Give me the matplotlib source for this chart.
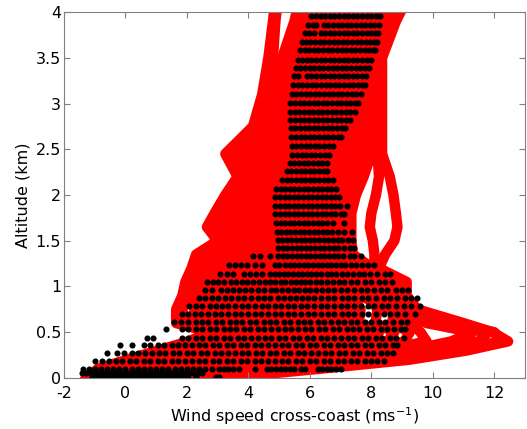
import matplotlib.pyplot as plt
from matplotlib.ticker import FormatStrFormatter

# altitude nodes (km) shared by all model profiles
profile_alt = [0.0, 0.1, 0.2, 0.3, 0.4, 0.5, 0.6, 0.75, 0.9, 1.05, 1.2, 1.35,
               1.5, 1.65, 1.8, 2.0, 2.2, 2.45, 2.75, 3.1, 3.5, 3.9, 4.2]

# cross-coast wind speed (m/s) of each model profile at the nodes above
profile_speed = [
    [-1.25, -0.90, 0.05, 1.05, 2.05, 2.75, 1.65, 1.65, 1.85, 1.95, 2.15, 2.30, 3.00, 2.65, 2.90, 3.25, 3.65, 3.25, 4.15, 4.45, 4.65, 4.80, 4.90],
    [-1.10, -0.68, 0.31, 1.32, 2.32, 3.00, 1.92, 1.85, 2.10, 2.20, 2.35, 2.45, 3.15, 2.85, 3.05, 3.40, 3.80, 3.45, 4.30, 4.58, 4.80, 4.88, 4.98],
    [-0.94, -0.46, 0.57, 1.59, 2.59, 3.25, 2.19, 2.25, 2.35, 2.45, 2.55, 2.65, 3.30, 3.05, 3.25, 3.60, 3.95, 3.60, 4.44, 4.72, 5.10, 5.50, 5.70],
    [-0.79, -0.24, 0.83, 1.86, 2.86, 3.50, 2.46, 2.55, 2.61, 2.69, 2.77, 2.84, 3.46, 3.22, 3.41, 3.76, 4.10, 3.78, 4.59, 4.85, 5.22, 5.62, 5.82],
    [-0.64, -0.02, 1.09, 2.13, 3.13, 3.75, 2.73, 2.80, 2.86, 2.94, 2.99, 3.03, 3.62, 3.39, 3.58, 3.91, 4.25, 3.95, 4.73, 4.99, 5.34, 5.74, 5.95],
    [-0.49, 0.20, 1.35, 2.40, 3.40, 4.00, 3.00, 3.05, 3.11, 3.19, 3.21, 3.22, 3.79, 3.57, 3.74, 4.07, 4.41, 4.13, 4.88, 5.12, 5.46, 5.86, 6.08],
    [-0.33, 0.42, 1.61, 2.67, 3.67, 4.25, 3.27, 3.35, 3.36, 3.44, 3.43, 3.41, 3.95, 3.74, 3.91, 4.22, 4.56, 4.30, 5.02, 5.26, 5.58, 5.98, 6.21],
    [-0.18, 0.64, 1.87, 2.94, 3.94, 4.50, 3.54, 3.60, 3.61, 3.69, 3.65, 3.60, 4.11, 3.91, 4.07, 4.38, 4.71, 4.48, 5.17, 5.39, 5.70, 6.10, 6.34],
    [-0.03, 0.86, 2.13, 3.21, 4.21, 4.75, 3.81, 3.90, 3.86, 3.94, 3.87, 3.79, 4.27, 4.08, 4.23, 4.54, 4.86, 4.66, 5.31, 5.53, 5.82, 6.22, 6.47],
    [0.13, 1.08, 2.39, 3.48, 4.48, 5.00, 4.08, 4.15, 4.12, 4.18, 4.09, 3.98, 4.43, 4.25, 4.40, 4.69, 5.01, 4.83, 5.46, 5.66, 5.94, 6.34, 6.60],
    [0.28, 1.30, 2.65, 3.75, 4.75, 5.25, 4.35, 4.40, 4.37, 4.43, 4.31, 4.17, 4.60, 4.43, 4.56, 4.85, 5.17, 5.01, 5.60, 5.80, 6.06, 6.46, 6.73],
    [0.43, 1.52, 2.91, 4.02, 5.02, 5.50, 4.62, 4.70, 4.62, 4.68, 4.53, 4.36, 4.76, 4.60, 4.73, 5.00, 5.32, 5.18, 5.75, 5.93, 6.18, 6.58, 6.86],
    [0.59, 1.74, 3.17, 4.29, 5.29, 5.75, 4.89, 4.95, 4.87, 4.93, 4.75, 4.55, 4.92, 4.77, 4.89, 5.16, 5.47, 5.36, 5.89, 6.06, 6.30, 6.70, 6.99],
    [0.74, 1.96, 3.43, 4.56, 5.56, 6.00, 5.16, 5.25, 5.12, 5.18, 4.97, 4.74, 5.08, 4.94, 5.05, 5.32, 5.62, 5.54, 6.04, 6.20, 6.42, 6.82, 7.12],
    [0.89, 2.18, 3.69, 4.83, 5.83, 6.25, 5.43, 5.50, 5.37, 5.43, 5.19, 4.93, 5.24, 5.11, 5.22, 5.47, 5.77, 5.71, 6.18, 6.33, 6.54, 6.94, 7.25],
    [1.05, 2.40, 3.95, 5.10, 6.10, 6.50, 5.70, 5.75, 5.63, 5.67, 5.41, 5.12, 5.41, 5.29, 5.38, 5.63, 5.93, 5.89, 6.33, 6.47, 6.67, 7.06, 7.38],
    [1.20, 2.62, 4.21, 5.37, 6.37, 6.75, 5.97, 6.05, 5.88, 5.92, 5.63, 5.31, 5.57, 5.46, 5.55, 5.78, 6.08, 6.06, 6.47, 6.60, 6.79, 7.18, 7.51],
    [1.35, 2.84, 4.47, 5.64, 6.64, 7.00, 6.24, 6.30, 6.13, 6.17, 5.85, 5.50, 5.73, 5.63, 5.71, 5.94, 6.23, 6.24, 6.62, 6.74, 6.91, 7.30, 7.64],
    [1.50, 3.06, 4.73, 5.91, 6.91, 7.25, 6.51, 6.55, 6.38, 6.42, 6.07, 5.69, 5.89, 5.80, 5.87, 6.10, 6.38, 6.42, 6.76, 6.87, 7.03, 7.42, 7.77],
    [1.66, 3.28, 4.99, 6.18, 7.18, 7.50, 6.78, 6.85, 6.63, 6.67, 6.29, 5.88, 6.05, 5.97, 6.04, 6.25, 6.53, 6.59, 6.91, 7.01, 7.15, 7.55, 7.91],
    [1.81, 3.50, 5.25, 6.45, 7.45, 7.75, 7.05, 7.10, 6.88, 6.92, 6.51, 6.07, 6.22, 6.15, 6.20, 6.41, 6.69, 6.77, 7.05, 7.14, 7.27, 7.67, 8.04],
    [1.96, 3.72, 5.51, 6.72, 7.72, 8.00, 7.32, 7.40, 7.14, 7.16, 6.73, 6.26, 6.38, 6.32, 6.37, 6.56, 6.84, 6.94, 7.20, 7.27, 7.39, 7.80, 8.17],
    [2.12, 3.94, 5.77, 6.99, 7.99, 8.25, 7.59, 7.65, 7.39, 7.41, 6.95, 6.45, 6.54, 6.49, 6.53, 6.72, 6.99, 7.12, 7.34, 7.41, 7.51, 7.92, 8.31],
    [2.27, 3.60, 6.20, 8.40, 9.80, 9.60, 9.30, 8.60, 7.64, 7.66, 7.17, 6.64, 6.70, 6.66, 6.70, 6.88, 7.14, 7.30, 7.49, 7.54, 7.63, 8.05, 8.44],
    [2.42, 4.38, 6.29, 7.53, 8.53, 8.75, 8.13, 8.20, 7.89, 7.91, 7.39, 6.83, 6.86, 6.83, 6.86, 7.03, 7.30, 7.47, 7.63, 7.68, 7.75, 8.17, 8.58],
    [2.58, 4.20, 7.00, 9.20, 10.60, 11.30, 9.80, 8.90, 8.14, 8.16, 7.61, 7.02, 7.03, 7.01, 7.02, 7.19, 7.45, 7.65, 7.78, 7.81, 7.87, 8.30, 8.71],
    [2.73, 4.82, 6.81, 8.07, 9.07, 9.25, 8.67, 8.75, 8.39, 8.41, 7.83, 7.21, 7.19, 7.18, 7.19, 7.34, 7.60, 7.82, 7.92, 7.95, 7.99, 8.42, 8.85],
    [2.88, 4.80, 7.80, 10.00, 11.50, 11.80, 10.20, 9.20, 8.65, 8.65, 8.05, 7.40, 7.35, 7.35, 7.35, 7.50, 7.75, 8.00, 8.07, 8.08, 8.11, 8.55, 8.98],
    [3.03, 5.40, 8.40, 10.60, 12.25, 12.00, 10.60, 9.30, 8.90, 8.90, 8.10, 8.10, 8.05, 7.95, 8.00, 8.15, 8.25, 8.20, 8.21, 8.22, 8.23, 8.67, 9.12],
    [3.19, 6.30, 9.25, 11.10, 12.45, 11.95, 11.00, 9.50, 9.15, 9.15, 8.25, 8.45, 8.75, 8.85, 8.80, 8.72, 8.60, 8.35, 8.35, 8.35, 8.35, 8.80, 9.25],
]

# observation levels (km)
obs_alt = [3.96, 3.86, 3.77, 3.67, 3.58, 3.48, 3.39, 3.30, 3.20, 3.10,
           3.01, 2.91, 2.82, 2.73, 2.63, 2.54, 2.44, 2.35, 2.26, 2.16,
           2.07, 1.98, 1.88, 1.79, 1.69, 1.60, 1.51, 1.42, 1.33, 1.23,
           1.14, 1.05, 0.96, 0.87, 0.79, 0.70, 0.61, 0.53, 0.44, 0.36,
           0.27, 0.19, 0.095, 0.05, 0.015]

# observed cross-coast wind speeds (m/s) at each level
obs_speed = [
    [6.05, 6.2, 6.35, 6.5, 6.65, 6.8, 6.95, 7.1, 7.25, 7.4, 7.55, 7.7, 7.85, 8.0, 8.15, 8.27],
    [5.95, 6.1, 6.2, 6.45, 6.6, 6.75, 6.9, 7.05, 7.2, 7.35, 7.5, 7.65, 7.8, 7.95, 8.1, 8.25],
    [5.84, 5.98, 6.12, 6.35, 6.5, 6.65, 6.8, 6.95, 7.1, 7.25, 7.4, 7.55, 7.7, 7.85, 8.0, 8.12, 8.22],
    [5.74, 5.88, 6.02, 6.18, 6.32, 6.47, 6.62, 6.77, 6.92, 7.07, 7.22, 7.37, 7.52, 7.67, 7.82, 7.97, 8.1, 8.17],
    [5.68, 5.83, 5.98, 6.13, 6.28, 6.43, 6.58, 6.73, 6.88, 7.03, 7.18, 7.33, 7.48, 7.63, 7.78, 7.93, 8.05, 8.12],
    [5.6, 5.75, 5.9, 6.05, 6.2, 6.35, 6.5, 6.65, 6.8, 6.95, 7.1, 7.25, 7.4, 7.55, 7.7, 7.85, 8.0],
    [5.54, 5.69, 5.84, 5.99, 6.14, 6.29, 6.44, 6.59, 6.74, 6.89, 7.04, 7.19, 7.34, 7.49, 7.64, 7.79, 7.94],
    [5.49, 5.62, 5.9, 6.05, 6.2, 6.35, 6.5, 6.65, 6.8, 6.95, 7.1, 7.25, 7.4, 7.55, 7.7, 7.84],
    [5.46, 5.61, 5.76, 5.91, 6.06, 6.21, 6.36, 6.51, 6.66, 6.81, 6.96, 7.11, 7.26, 7.41, 7.56, 7.7, 7.79],
    [5.41, 5.56, 5.71, 5.86, 6.01, 6.16, 6.31, 6.46, 6.61, 6.76, 6.91, 7.06, 7.21, 7.36, 7.51, 7.66],
    [5.37, 5.52, 5.67, 5.82, 5.97, 6.12, 6.27, 6.42, 6.57, 6.72, 6.87, 7.02, 7.17, 7.32, 7.47, 7.58],
    [5.36, 5.51, 5.66, 5.81, 5.96, 6.11, 6.26, 6.41, 6.56, 6.71, 6.86, 7.01, 7.16, 7.3, 7.46],
    [5.37, 5.52, 5.67, 5.82, 5.97, 6.12, 6.27, 6.42, 6.57, 6.72, 6.87, 7.02, 7.17, 7.3],
    [5.38, 5.53, 5.68, 5.83, 5.98, 6.13, 6.28, 6.43, 6.58, 6.73, 6.88, 7.03, 7.15],
    [5.4, 5.55, 5.7, 5.85, 6.0, 6.15, 6.3, 6.45, 6.6, 6.75, 6.9, 7.0],
    [5.41, 5.56, 5.71, 5.86, 6.01, 6.16, 6.31, 6.46, 6.61, 6.76],
    [5.43, 5.58, 5.73, 5.88, 6.03, 6.18, 6.33, 6.48, 6.63],
    [5.35, 5.5, 5.65, 5.8, 5.95, 6.1, 6.25, 6.4, 6.55],
    [5.25, 5.4, 5.55, 5.7, 5.85, 6.0, 6.15, 6.3, 6.45, 6.55],
    [5.1, 5.25, 5.4, 5.55, 5.7, 5.85, 6.0, 6.15, 6.3, 6.45, 6.6, 6.75],
    [4.9, 5.05, 5.2, 5.35, 5.5, 5.65, 5.8, 5.95, 6.1, 6.25, 6.4, 6.55, 6.7, 6.85],
    [4.88, 5.03, 5.18, 5.33, 5.48, 5.63, 5.78, 5.93, 6.08, 6.23, 6.38, 6.53, 6.68, 6.83, 6.95],
    [4.88, 5.03, 5.18, 5.33, 5.48, 5.63, 5.78, 5.93, 6.08, 6.23, 6.38, 6.53, 6.68, 6.83, 6.98, 7.2],
    [4.88, 5.03, 5.18, 5.33, 5.48, 5.63, 5.78, 5.93, 6.08, 6.23, 6.38, 6.53, 6.68, 6.83, 7.0, 7.1],
    [4.9, 5.05, 5.2, 5.35, 5.5, 5.65, 5.8, 5.95, 6.1, 6.25, 6.4, 6.55, 6.75, 7.1],
    [4.92, 5.07, 5.22, 5.37, 5.52, 5.67, 5.82, 5.97, 6.12, 6.27, 6.42, 6.57, 6.72, 6.9, 7.1, 7.36],
    [4.95, 5.1, 5.25, 5.4, 5.55, 5.7, 5.85, 6.0, 6.15, 6.3, 6.45, 6.6, 6.75, 6.92, 7.05, 7.25, 7.4],
    [4.97, 5.12, 5.27, 5.42, 5.57, 5.72, 5.87, 6.02, 6.17, 6.32, 6.47, 6.62, 6.77, 6.92, 7.1, 7.3, 7.45],
    [4.14, 4.38, 4.69, 4.97, 5.12, 5.27, 5.42, 5.57, 5.72, 5.87, 6.02, 6.17, 6.32, 6.47, 6.62, 6.77, 6.92, 7.07, 7.3, 7.45, 7.67],
    [3.38, 3.55, 3.75, 3.95, 4.2, 4.45, 4.85, 5.0, 5.2, 5.35, 5.5, 5.65, 5.8, 5.95, 6.1, 6.25, 6.4, 6.55, 6.7, 6.85, 7.0, 7.15, 7.35, 7.5, 7.7, 7.9, 8.1],
    [3.08, 3.3, 3.5, 3.85, 4.05, 4.25, 4.45, 4.7, 4.85, 5.0, 5.15, 5.3, 5.45, 5.6, 5.75, 5.9, 6.05, 6.2, 6.35, 6.55, 6.7, 6.85, 7.05, 7.2, 7.4, 7.6, 7.75, 7.95, 8.2, 8.45, 8.6],
    [2.65, 2.85, 3.0, 3.2, 3.45, 3.6, 3.8, 3.95, 4.15, 4.35, 4.55, 4.7, 4.85, 5.05, 5.2, 5.4, 5.55, 5.7, 5.85, 6.0, 6.2, 6.35, 6.55, 6.75, 6.95, 7.1, 7.35, 7.55, 7.8, 8.0, 8.25, 8.45, 8.67],
    [2.6, 2.8, 3.1, 3.3, 3.5, 3.7, 3.9, 4.1, 4.3, 4.5, 4.75, 4.9, 5.1, 5.3, 5.5, 5.65, 5.85, 6.0, 6.2, 6.4, 6.6, 6.8, 7.0, 7.2, 7.45, 7.65, 7.85, 8.1, 8.3, 8.5, 8.8, 9.0, 9.2],
    [2.4, 2.6, 2.8, 3.0, 3.25, 3.45, 3.65, 3.85, 4.1, 4.3, 4.5, 4.7, 4.95, 5.15, 5.35, 5.55, 5.75, 5.95, 6.15, 6.35, 6.6, 6.8, 7.05, 7.25, 7.45, 7.7, 7.9, 8.15, 8.4, 8.6, 8.85, 9.1, 9.3, 9.48],
    [2.08, 2.3, 2.5, 2.75, 2.95, 3.15, 3.35, 3.55, 3.8, 4.0, 4.2, 4.45, 4.65, 4.85, 5.05, 5.3, 5.5, 5.7, 5.9, 6.15, 6.35, 6.55, 6.8, 7.0, 7.2, 7.45, 7.65, 7.9, 8.1, 8.35, 8.55, 8.8, 9.05, 9.3, 9.6],
    [1.83, 2.05, 2.25, 2.45, 2.7, 2.9, 3.1, 3.35, 3.55, 3.75, 4.0, 4.2, 4.4, 4.65, 4.85, 5.05, 5.3, 5.5, 5.7, 5.95, 6.15, 6.35, 6.6, 6.8, 7.05, 7.25, 7.45, 7.7, 7.9, 8.15, 8.4, 8.6, 8.85, 9.1, 9.43],
    [1.58, 1.8, 2.05, 2.3, 2.5, 2.7, 2.95, 3.15, 3.4, 3.6, 3.8, 4.05, 4.25, 4.5, 4.7, 4.9, 5.15, 5.35, 5.6, 5.8, 6.0, 6.25, 6.45, 6.7, 6.9, 7.1, 7.35, 7.55, 7.8, 8.0, 8.25, 8.45, 8.7, 8.95, 9.15],
    [1.31, 1.83, 2.05, 2.3, 2.5, 2.75, 2.95, 3.2, 3.4, 3.6, 3.85, 4.05, 4.3, 4.5, 4.75, 4.95, 5.2, 5.4, 5.6, 5.85, 6.05, 6.3, 6.5, 6.75, 6.95, 7.2, 7.4, 7.6, 7.85, 8.05, 8.3, 8.5, 8.75, 8.95, 9.1],
    [0.69, 0.91, 1.83, 2.05, 2.3, 2.5, 2.75, 2.95, 3.2, 3.4, 3.65, 3.85, 4.1, 4.3, 4.55, 4.75, 5.0, 5.2, 5.45, 5.65, 5.9, 6.1, 6.35, 6.55, 6.8, 7.0, 7.25, 7.45, 7.7, 7.9, 8.15, 8.35, 8.6, 8.8, 9.05],
    [-0.17, 0.2, 0.59, 0.8, 1.05, 1.25, 1.5, 1.7, 1.95, 2.15, 2.4, 2.6, 2.85, 3.05, 3.3, 3.5, 3.75, 3.95, 4.2, 4.4, 4.65, 4.85, 5.1, 5.3, 5.55, 5.75, 6.0, 6.2, 6.45, 6.65, 6.9, 7.1, 7.35, 7.55, 7.8, 8.0, 8.25, 8.45, 8.7, 8.83],
    [-0.6, -0.28, -0.05, 0.2, 0.4, 0.65, 0.85, 1.1, 1.3, 1.55, 1.75, 2.0, 2.2, 2.45, 2.65, 2.9, 3.1, 3.35, 3.55, 3.8, 4.0, 4.25, 4.45, 4.7, 4.9, 5.15, 5.35, 5.6, 5.8, 6.05, 6.25, 6.5, 6.7, 6.95, 7.15, 7.4, 7.6, 7.85, 8.05, 8.3, 8.5, 8.72],
    [-0.99, -0.75, -0.55, -0.3, -0.1, 0.15, 0.35, 0.6, 0.8, 1.05, 1.25, 1.5, 1.7, 1.95, 2.15, 2.4, 2.6, 2.85, 3.05, 3.3, 3.5, 3.75, 3.95, 4.2, 4.4, 4.65, 4.85, 5.1, 5.3, 5.55, 5.75, 6.0, 6.2, 6.45, 6.65, 6.9, 7.1, 7.35, 7.55, 7.8, 8.0, 8.2, 8.4],
    [-1.37, -1.2, -1.0, -0.8, -0.6, -0.4, -0.2, 0.0, 0.2, 0.4, 0.6, 0.8, 1.0, 1.2, 1.4, 1.6, 1.8, 2.0, 2.2, 2.4, 2.6, 2.8, 3.05, 3.2, 3.35, 3.5, 3.7, 4.2, 4.6, 4.75, 4.9, 5.05, 5.2, 5.35, 5.5, 5.7, 5.85, 6.25, 6.4, 6.55, 6.7, 6.85, 7.0],
    [-1.40, -1.28, -1.16, -1.04, -0.92, -0.80, -0.68, -0.56, -0.44, -0.32, -0.20, -0.08, 0.04, 0.16, 0.28, 0.40, 0.52, 0.64, 0.76, 0.88, 1.00, 1.12, 1.24, 1.36, 1.48, 1.60, 1.72, 1.84, 1.96, 2.08, 2.20, 2.35, 2.5],
    [-1.1, -0.95, -0.8, -0.65, -0.5, -0.35, -0.2, -0.05, 0.1, 0.25, 0.4, 0.55, 0.7, 0.85, 1.0, 1.15, 1.3, 1.45, 1.6, 1.75, 1.9, 2.05, 2.3, 2.95, 3.05],
]

x_ticks = [-2, 0, 2, 4, 6, 8, 10, 12]
y_ticks = [0, 0.5, 1, 1.5, 2, 2.5, 3, 3.5, 4]

plt.rcParams['font.family'] = ['DejaVu Sans']
plt.rcParams['axes.unicode_minus'] = False

fig = plt.figure(figsize=(5.27, 4.29), dpi=100)
ax = fig.add_axes([0.1214, 0.1189, 0.8748, 0.8531])

for speeds in profile_speed:
    ax.plot(speeds, profile_alt, color='red', lw=7.5, zorder=1)

for alt, speeds in zip(obs_alt, obs_speed):
    ax.plot(speeds, [alt] * len(speeds), 'o', color='black', ms=4.4, mew=0, zorder=2)

ax.set_xlim(-2, 13)
ax.set_ylim(0, 4)
ax.set_xticks(x_ticks)
ax.set_yticks(y_ticks)
ax.yaxis.set_major_formatter(FormatStrFormatter('%g'))
ax.tick_params(direction='in', length=4, width=0.8, color='0.5',
               top=True, right=True, labelsize=11.5)
ax.tick_params(axis='x', pad=6)
ax.tick_params(axis='y', pad=2)
for side in ax.spines.values():
    side.set_color('0.5')
    side.set_linewidth(0.8)

ax.set_xlabel('Wind speed cross-coast (ms$^{-1}$)', fontsize=11.5, labelpad=3)
ax.set_ylabel('Altitude (km)', fontsize=11.5, labelpad=4)

fig.savefig('out.png', dpi=100)
